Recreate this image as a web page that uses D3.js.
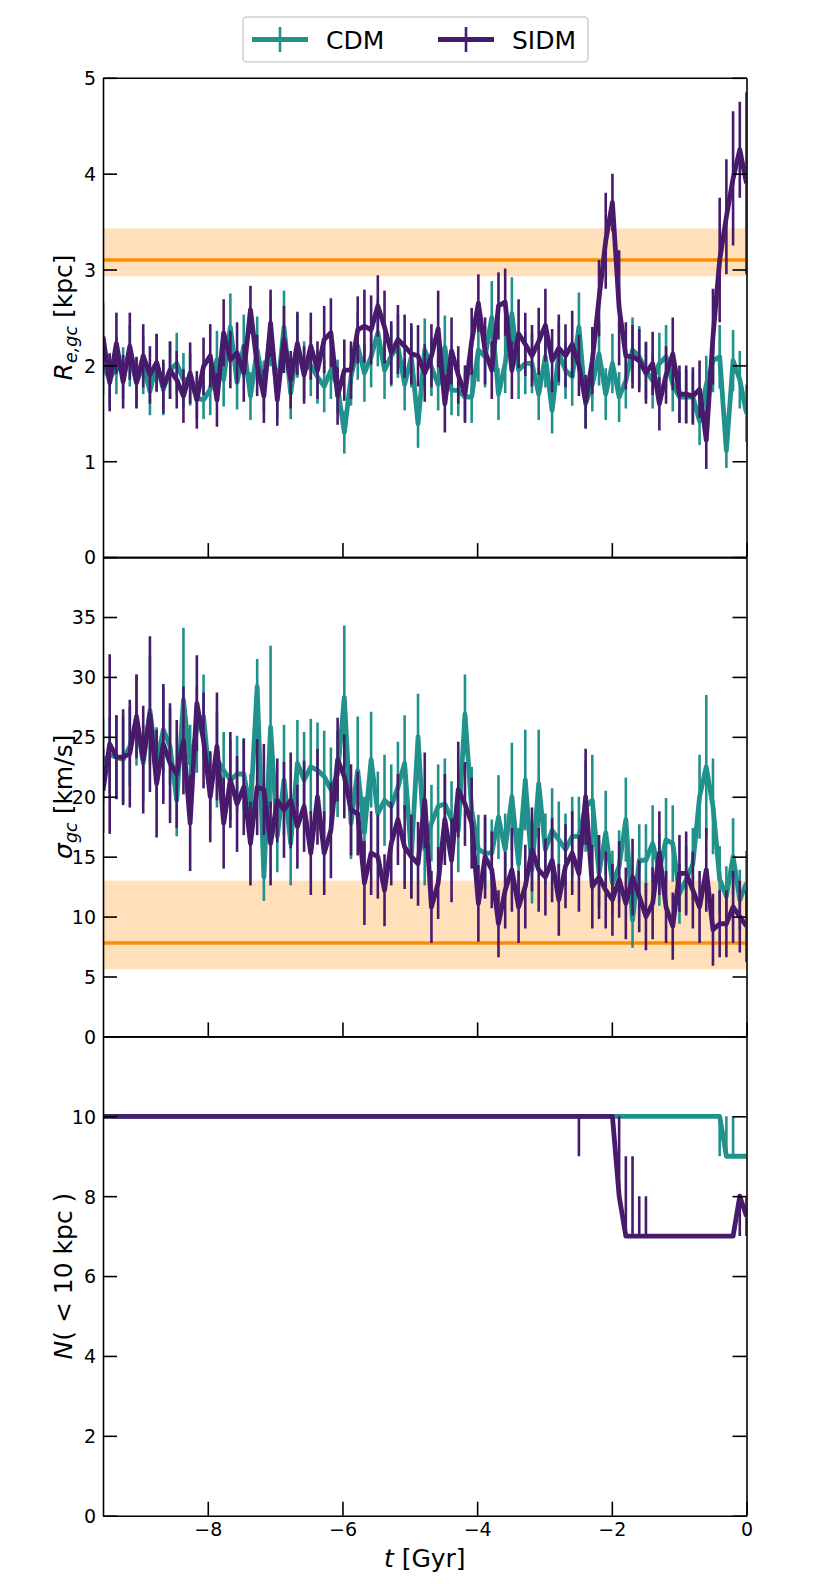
<!DOCTYPE html>
<html>
<head>
<meta charset="utf-8">
<script src="https://cdn.jsdelivr.net/npm/d3@7"></script>
<style>
  body { margin: 0; background: #fff; }
  svg text { font-family: "DejaVu Sans", sans-serif; fill: #000; }
</style>
</head>
<body>
<svg width="830" height="1584"></svg>
<script>
  // time grid of the snapshots [Gyr]
  const t_first = -9.556, t_step = 0.09954, n_snap = 97;
  const t_gyr = d3.range(n_snap).map(i => t_first + i * t_step);

  // half-light radius of the GC system [kpc]
  const cdm_re = [2.0,1.85,2.0,1.92,2.1,1.82,2.0,1.73,2.02,1.75,
    1.95,2.02,1.85,1.85,1.66,1.64,1.75,2.06,1.85,2.4,
    1.82,2.2,1.68,2.16,1.78,2.34,1.71,2.4,1.71,2.2,
    1.95,2.0,1.88,1.78,1.95,1.78,1.3,1.88,2.2,1.92,
    2.09,2.34,1.95,2.1,2.2,1.8,2.09,1.39,2.16,1.98,
    1.8,2.19,1.74,1.74,1.67,1.67,2.16,2.09,2.5,1.7,
    2.02,2.54,1.95,2.02,2.02,1.7,2.09,1.53,2.12,1.95,
    1.88,2.4,1.6,1.8,2.12,1.7,2.02,1.67,1.84,2.16,
    2.09,1.95,1.84,2.02,2.09,1.8,1.67,1.67,1.67,1.42,
    1.8,2.05,2.09,1.11,2.05,1.85,1.5];
  const cdm_re_err = [0.3,0.28,0.3,0.27,0.32,0.26,0.3,0.25,0.3,0.27,
    0.3,0.32,0.28,0.27,0.22,0.2,0.27,0.3,0.28,0.35,
    0.28,0.33,0.25,0.35,0.27,0.35,0.26,0.38,0.27,0.33,
    0.3,0.32,0.28,0.27,0.3,0.28,0.22,0.3,0.35,0.3,
    0.32,0.35,0.3,0.32,0.33,0.27,0.32,0.25,0.33,0.3,
    0.27,0.33,0.26,0.27,0.25,0.27,0.33,0.32,0.38,0.27,
    0.31,0.38,0.3,0.32,0.31,0.27,0.32,0.24,0.33,0.3,
    0.3,0.36,0.25,0.28,0.33,0.27,0.31,0.26,0.29,0.34,
    0.32,0.3,0.29,0.32,0.33,0.28,0.26,0.28,0.27,0.25,
    0.3,0.33,0.33,0.18,0.32,0.3,0.3];
  const sidm_re = [2.3,1.82,2.23,1.83,2.2,1.82,2.1,1.9,2.03,1.78,
    1.95,1.85,1.68,1.92,1.64,1.99,2.1,1.64,2.34,2.06,
    2.13,1.92,2.58,2.0,1.68,2.44,1.64,2.27,1.85,2.23,
    1.9,2.2,1.95,2.27,2.34,1.68,1.95,1.95,2.37,2.41,
    2.37,2.62,2.4,2.13,2.27,2.2,2.12,2.1,1.92,2.1,
    2.38,1.6,2.15,1.9,1.7,2.25,2.65,2.15,1.95,2.62,
    2.66,1.95,2.33,2.22,2.1,2.25,2.42,2.05,2.18,2.1,
    2.22,2.0,1.62,2.05,2.7,3.3,3.7,2.6,2.1,2.09,
    2.05,1.92,2.02,1.6,1.9,2.12,1.7,1.7,1.68,1.75,
    1.22,2.3,3.1,3.55,3.95,4.25,3.9];
  const sidm_re_err = [0.35,0.3,0.32,0.28,0.35,0.27,0.33,0.3,0.3,0.28,
    0.3,0.3,0.28,0.32,0.3,0.3,0.33,0.28,0.35,0.3,
    0.32,0.3,0.25,0.32,0.28,0.35,0.27,0.35,0.3,0.33,
    0.3,0.35,0.3,0.35,0.36,0.3,0.32,0.3,0.35,0.38,
    0.36,0.32,0.38,0.33,0.36,0.33,0.32,0.32,0.3,0.33,
    0.4,0.3,0.35,0.3,0.3,0.35,0.3,0.35,0.3,0.35,
    0.35,0.3,0.36,0.33,0.32,0.35,0.38,0.33,0.35,0.33,
    0.35,0.32,0.28,0.35,0.4,0.5,0.3,0.6,0.35,0.33,
    0.33,0.32,0.33,0.28,0.3,0.38,0.3,0.3,0.3,0.3,
    0.3,0.5,0.65,0.6,0.7,0.5,0.95];

  // velocity dispersion of the GC system [km/s]
  const cdm_sig = [23.0,23.5,23.3,23.1,24.2,26.4,22.8,27.2,22.8,25.6,
    24.2,19.7,28.1,22.8,25.6,26.7,20.8,23.1,22.2,21.4,
    21.9,21.9,18.9,29.2,13.3,25.8,16.7,21.4,16.1,22.8,
    21.4,22.5,22.2,21.7,20.6,21.9,28.3,17.8,22.2,17.0,
    23.1,18.6,19.7,19.2,20.8,22.8,15.0,25.0,15.6,17.8,
    19.2,19.4,18.1,17.2,26.9,18.9,15.6,15.3,15.3,18.3,
    15.6,20.0,14.4,21.4,13.9,21.1,15.6,17.2,16.4,15.6,
    16.7,16.7,19.2,19.7,13.6,17.0,12.8,14.2,18.1,9.7,
    14.7,14.7,16.1,13.9,16.4,16.1,11.9,13.1,14.4,20.0,
    22.5,19.2,13.1,11.7,15.0,11.4,12.8];
  const cdm_sig_err = [3.5,3.2,3.5,3.6,3.3,3.8,3.2,4.5,3.0,3.6,
    3.2,3.0,6.0,3.2,3.6,3.5,2.8,4.0,3.2,3.4,
    3.2,3.0,3.0,2.3,2.0,6.8,3.0,4.6,3.5,3.6,
    4.0,4.0,4.0,3.8,3.5,3.6,6.0,3.0,4.5,3.0,
    4.0,3.5,3.8,3.5,3.8,4.0,3.5,3.6,3.0,3.2,
    3.5,3.8,3.2,3.5,3.3,3.6,2.9,3.0,2.8,3.5,
    3.0,4.5,3.0,4.2,2.8,4.5,3.0,3.5,3.2,3.0,
    3.3,3.3,3.8,3.8,2.8,3.5,2.7,3.0,3.5,2.3,
    3.0,3.0,3.2,3.0,3.5,3.2,2.5,2.8,3.0,3.5,
    6.0,4.0,2.8,2.5,3.2,2.5,2.7];
  const sidm_sig = [20.5,24.4,23.3,23.3,23.6,26.7,23.1,26.9,21.1,24.4,
    22.8,21.9,24.7,17.8,27.8,24.7,20.0,24.2,17.8,21.4,
    19.4,20.8,16.1,20.8,20.6,16.1,19.7,18.9,19.7,17.5,
    19.2,15.3,20.0,15.3,17.2,23.1,21.7,18.9,18.6,12.8,
    15.3,15.0,12.2,16.1,18.1,15.8,15.0,14.4,19.7,10.8,
    12.8,18.1,14.7,20.6,19.4,17.8,11.1,15.0,13.9,9.4,
    12.2,13.9,10.8,12.5,15.6,13.9,13.3,14.7,11.4,14.2,
    15.3,13.6,20.0,12.5,13.3,12.2,11.4,13.1,11.1,13.3,
    11.7,10.0,11.1,15.3,10.8,9.2,13.6,13.6,12.2,10.8,
    13.9,8.9,9.4,9.4,10.8,10.0,9.2];
  const sidm_sig_err = [3.5,7.5,3.5,4.0,4.5,3.5,4.5,6.5,4.5,5.0,
    5.0,4.5,4.5,4.0,4.0,4.0,3.8,4.5,3.8,4.0,
    4.0,4.0,3.5,4.0,3.8,3.5,3.5,4.0,4.0,3.5,
    3.8,3.5,4.0,3.5,4.0,3.5,3.5,3.8,3.5,3.5,
    3.5,3.5,3.0,3.5,3.8,3.5,3.5,3.5,4.0,3.0,
    3.0,3.8,3.5,4.0,3.5,3.8,3.2,3.5,3.2,2.8,
    3.2,3.5,3.0,3.5,3.5,3.5,3.2,3.5,3.0,3.5,
    3.5,3.2,4.0,3.5,3.5,3.2,3.0,3.2,3.0,3.2,
    3.0,2.8,3.0,3.5,3.0,2.8,3.2,3.5,3.2,3.0,
    3.5,3.0,2.8,2.8,3.0,3.0,3.0];

  // number of GCs within 10 kpc
  const cdm_n = [10,10,10,10,10,10,10,10,10,10,
    10,10,10,10,10,10,10,10,10,10,
    10,10,10,10,10,10,10,10,10,10,
    10,10,10,10,10,10,10,10,10,10,
    10,10,10,10,10,10,10,10,10,10,
    10,10,10,10,10,10,10,10,10,10,
    10,10,10,10,10,10,10,10,10,10,
    10,10,10,10,10,10,10,10,10,10,
    10,10,10,10,10,10,10,10,10,10,
    10,10,10,9,9,9,9];
  const sidm_n = [10,10,10,10,10,10,10,10,10,10,
    10,10,10,10,10,10,10,10,10,10,
    10,10,10,10,10,10,10,10,10,10,
    10,10,10,10,10,10,10,10,10,10,
    10,10,10,10,10,10,10,10,10,10,
    10,10,10,10,10,10,10,10,10,10,
    10,10,10,10,10,10,10,10,10,10,
    10,10,10,10,10,10,10,8,7,7,
    7,7,7,7,7,7,7,7,7,7,
    7,7,7,7,7,8,7.5];
  // [snapshot index, lower, upper]
  const cdm_n_bars = [[92, 9, 10], [93, 9, 10], [94, 9, 10]];
  const sidm_n_bars = [[71, 9, 10], [77, 8, 10], [78, 7, 9], [79, 7, 9],
    [80, 7, 8], [81, 7, 8], [95, 7, 8], [96, 7, 8]];

  // observed values (line, lower, upper)
  const re_obs = [3.10, 2.93, 3.43];
  const sig_obs = [7.8, 5.6, 13.0];

  const t_ticks = [-8, -6, -4, -2, 0];
  const re_ticks = [0, 1, 2, 3, 4, 5];
  const sig_ticks = [0, 5, 10, 15, 20, 25, 30, 35];
  const n_ticks = [0, 2, 4, 6, 8, 10];

  const svg = d3.select('svg');
  const x = d3.scaleLinear().domain([t_first, 0]).range([103, 746.5]);
  const panel_top = 77.8, panel_h = 479.3;
  const cdm_color = '#21918c', sidm_color = '#481a6c', obs_color = '#ff8c00';
  const label_size = 25;

  const sym = (vals, err) => vals.map((v, i) => [t_gyr[i], v - err[i], v + err[i]]);
  const sparse = bars => bars.map(([i, lo, hi]) => [t_gyr[i], lo, hi]);

  const panels = [
    { domain: [0, 5], ticks: re_ticks, obs: re_obs,
      cdm: cdm_re, cdm_bars: sym(cdm_re, cdm_re_err),
      sidm: sidm_re, sidm_bars: sym(sidm_re, sidm_re_err),
      label: [['R', 'i'], ['e,gc', 's'], [' [kpc]', '']] },
    { domain: [0, 40], ticks: sig_ticks, obs: sig_obs,
      cdm: cdm_sig, cdm_bars: sym(cdm_sig, cdm_sig_err),
      sidm: sidm_sig, sidm_bars: sym(sidm_sig, sidm_sig_err),
      label: [['σ', 'i'], ['gc', 's'], [' [km/s]', '']] },
    { domain: [0, 12], ticks: n_ticks, obs: null,
      cdm: cdm_n, cdm_bars: sparse(cdm_n_bars),
      sidm: sidm_n, sidm_bars: sparse(sidm_n_bars),
      label: [['N', 'i'], ['( < 10 kpc )', '']] }
  ];

  panels.forEach((p, k) => {
    const top = panel_top + k * panel_h, bottom = top + panel_h;
    const y = d3.scaleLinear().domain(p.domain).range([bottom, top]);
    const g = svg.append('g');

    svg.append('clipPath').attr('id', 'clip' + k)
      .append('rect')
        .attr('x', x.range()[0]).attr('y', top)
        .attr('width', x.range()[1] - x.range()[0]).attr('height', panel_h);
    const plot = g.append('g').attr('clip-path', `url(#clip${k})`);

    if (p.obs) {
      plot.append('rect')
        .attr('x', x.range()[0])
        .attr('width', x.range()[1] - x.range()[0])
        .attr('y', y(p.obs[2]))
        .attr('height', y(p.obs[1]) - y(p.obs[2]))
        .attr('fill', obs_color)
        .attr('fill-opacity', 0.27);
      plot.append('line')
        .attr('x1', x.range()[0]).attr('x2', x.range()[1])
        .attr('y1', y(p.obs[0])).attr('y2', y(p.obs[0]))
        .attr('stroke', obs_color)
        .attr('stroke-width', 3.5);
    }

    const line = d3.line().x((d, i) => x(t_gyr[i])).y(d => y(d));
    [[p.cdm, p.cdm_bars, cdm_color], [p.sidm, p.sidm_bars, sidm_color]].forEach(([vals, bars, col]) => {
      plot.append('g').selectAll('line')
        .data(bars)
        .enter()
          .append('line')
          .attr('x1', d => x(d[0])).attr('x2', d => x(d[0]))
          .attr('y1', d => y(d[1])).attr('y2', d => y(d[2]))
          .attr('stroke', col)
          .attr('stroke-width', 2.6);
      plot.append('path')
        .datum(vals)
        .attr('d', line)
        .attr('fill', 'none')
        .attr('stroke', col)
        .attr('stroke-width', 4.8)
        .attr('stroke-linejoin', 'round');
    });

    // axes, ticks pointing inwards
    const left = g.append('g')
      .attr('transform', `translate(${x.range()[0]},0)`)
      .call(d3.axisLeft(y).tickValues(p.ticks).tickFormat(d3.format('d'))
        .tickSize(-14).tickSizeOuter(0).tickPadding(7));
    g.append('g')
      .attr('transform', `translate(${x.range()[1]},0)`)
      .call(d3.axisRight(y).tickValues(p.ticks).tickSize(-14).tickSizeOuter(0).tickFormat(''));
    g.append('g')
      .attr('transform', `translate(0,${bottom})`)
      .call(d3.axisBottom(x).tickValues(t_ticks).tickSize(-14).tickSizeOuter(0).tickPadding(7)
        .tickFormat(k === 2 ? d3.format('d') : ''));
    g.append('g')
      .attr('transform', `translate(0,${top})`)
      .call(d3.axisTop(x).tickValues([]).tickSizeOuter(0));

    g.selectAll('.domain, .tick line')
      .attr('stroke', '#000')
      .attr('stroke-width', 1.6);
    g.selectAll('.tick text')
      .attr('font-family', 'DejaVu Sans')
      .attr('font-size', 19);
    left.selectAll('.tick text').attr('dy', '0.36em');

    // y label
    const lab = g.append('text')
      .attr('transform', `translate(71.5,${(top + bottom) / 2}) rotate(-90)`)
      .attr('text-anchor', 'middle')
      .attr('font-size', label_size);
    let shifted = false;
    p.label.forEach(([txt, kind]) => {
      const ts = lab.append('tspan').text(txt);
      if (kind === 'i' || kind === 's') ts.attr('font-style', 'italic');
      if (kind === 's') { ts.attr('font-size', 17.5).attr('dy', 5); shifted = true; }
      else if (shifted) { ts.attr('dy', -5); shifted = false; }
    });
  });

  // x label
  const xl = svg.append('text')
    .attr('x', (x.range()[0] + x.range()[1]) / 2)
    .attr('y', 1567)
    .attr('text-anchor', 'middle')
    .attr('font-size', label_size);
  xl.append('tspan').attr('font-style', 'italic').text('t');
  xl.append('tspan').text(' [Gyr]');

  // legend
  const leg = svg.append('g');
  leg.append('rect')
    .attr('x', 243).attr('y', 17)
    .attr('width', 345).attr('height', 45)
    .attr('rx', 4)
    .attr('fill', '#fff').attr('fill-opacity', 0.8)
    .attr('stroke', '#d0d0d0').attr('stroke-width', 1.6);
  [['CDM', cdm_color, 252], ['SIDM', sidm_color, 438]].forEach(([name, col, x0]) => {
    leg.append('line')
      .attr('x1', x0).attr('x2', x0 + 56)
      .attr('y1', 39.5).attr('y2', 39.5)
      .attr('stroke', col).attr('stroke-width', 4.8);
    leg.append('line')
      .attr('x1', x0 + 28).attr('x2', x0 + 28)
      .attr('y1', 27).attr('y2', 52)
      .attr('stroke', col).attr('stroke-width', 2.6);
    leg.append('text')
      .attr('x', x0 + 74).attr('y', 39.5)
      .attr('dy', '0.36em')
      .attr('font-size', label_size)
      .text(name);
  });
</script>
</body>
</html>
